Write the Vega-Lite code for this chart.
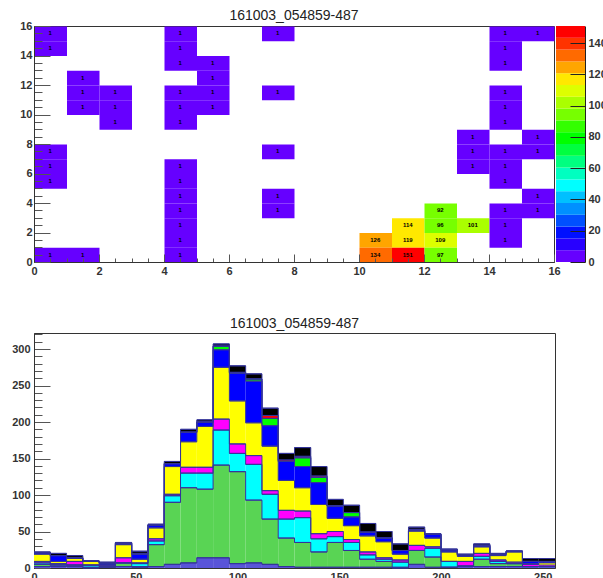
{
  "$schema": "https://vega.github.io/schema/vega-lite/v6.json",
  "padding": {"left": 11, "top": 8, "right": 0, "bottom": 0},
  "config": {
    "font": "Liberation Sans",
    "view": {"stroke": "#333", "strokeWidth": 1},
    "axis": {"labelFont": "Liberation Sans", "labelFontSize": 11, "labelColor": "#333", "labelFontWeight": "bold", "domainColor": "#333", "tickColor": "#555", "grid": false, "tickCount": 200},
    "title": {"font": "Liberation Sans", "fontSize": 14, "fontWeight": "normal", "color": "#222"}
  },
  "resolve": {"scale": {"color": "independent"}},
  "spacing": 35,
  "vconcat": [
    {
      "spacing": 2,
      "bounds": "flush",
      "hconcat": [
        {
          "width": 520,
          "height": 236,
          "title": {"text": "161003_054859-487", "offset": -3},
          "data": {"values": [
            {"x": 0.5, "y": 15.5, "v": 1}, {"x": 0.5, "y": 14.5, "v": 1}, {"x": 0.5, "y": 7.5, "v": 1}, {"x": 0.5, "y": 6.5, "v": 1}, {"x": 0.5, "y": 5.5, "v": 1}, {"x": 0.5, "y": 0.5, "v": 1},
            {"x": 1.5, "y": 12.5, "v": 1}, {"x": 1.5, "y": 11.5, "v": 1}, {"x": 1.5, "y": 10.5, "v": 1}, {"x": 1.5, "y": 0.5, "v": 1},
            {"x": 2.5, "y": 11.5, "v": 1}, {"x": 2.5, "y": 10.5, "v": 1}, {"x": 2.5, "y": 9.5, "v": 1},
            {"x": 4.5, "y": 15.5, "v": 1}, {"x": 4.5, "y": 14.5, "v": 1}, {"x": 4.5, "y": 13.5, "v": 1}, {"x": 4.5, "y": 11.5, "v": 1}, {"x": 4.5, "y": 10.5, "v": 1}, {"x": 4.5, "y": 9.5, "v": 1}, {"x": 4.5, "y": 6.5, "v": 1}, {"x": 4.5, "y": 5.5, "v": 1}, {"x": 4.5, "y": 4.5, "v": 1}, {"x": 4.5, "y": 3.5, "v": 1}, {"x": 4.5, "y": 2.5, "v": 1}, {"x": 4.5, "y": 1.5, "v": 1}, {"x": 4.5, "y": 0.5, "v": 1},
            {"x": 5.5, "y": 13.5, "v": 1}, {"x": 5.5, "y": 12.5, "v": 1}, {"x": 5.5, "y": 11.5, "v": 1}, {"x": 5.5, "y": 10.5, "v": 1},
            {"x": 7.5, "y": 15.5, "v": 1}, {"x": 7.5, "y": 11.5, "v": 1}, {"x": 7.5, "y": 7.5, "v": 1}, {"x": 7.5, "y": 4.5, "v": 1}, {"x": 7.5, "y": 3.5, "v": 1},
            {"x": 10.5, "y": 1.5, "v": 126}, {"x": 10.5, "y": 0.5, "v": 134},
            {"x": 11.5, "y": 2.5, "v": 114}, {"x": 11.5, "y": 1.5, "v": 119}, {"x": 11.5, "y": 0.5, "v": 151},
            {"x": 12.5, "y": 3.5, "v": 92}, {"x": 12.5, "y": 2.5, "v": 96}, {"x": 12.5, "y": 1.5, "v": 109}, {"x": 12.5, "y": 0.5, "v": 97},
            {"x": 13.5, "y": 2.5, "v": 101}, {"x": 13.5, "y": 8.5, "v": 1}, {"x": 13.5, "y": 7.5, "v": 1}, {"x": 13.5, "y": 6.5, "v": 1},
            {"x": 14.5, "y": 15.5, "v": 1}, {"x": 14.5, "y": 14.5, "v": 1}, {"x": 14.5, "y": 13.5, "v": 1}, {"x": 14.5, "y": 11.5, "v": 1}, {"x": 14.5, "y": 10.5, "v": 1}, {"x": 14.5, "y": 9.5, "v": 1}, {"x": 14.5, "y": 7.5, "v": 1}, {"x": 14.5, "y": 6.5, "v": 1}, {"x": 14.5, "y": 5.5, "v": 1}, {"x": 14.5, "y": 3.5, "v": 1}, {"x": 14.5, "y": 2.5, "v": 1}, {"x": 14.5, "y": 1.5, "v": 1},
            {"x": 15.5, "y": 15.5, "v": 1}, {"x": 15.5, "y": 8.5, "v": 1}, {"x": 15.5, "y": 7.5, "v": 1}, {"x": 15.5, "y": 4.5, "v": 1}, {"x": 15.5, "y": 3.5, "v": 1}
          ]},
          "layer": [
            {
              "mark": {"type": "rect"},
              "encoding": {
                "x": {"field": "x", "type": "quantitative", "bin": {"extent": [0, 16], "step": 1}, "scale": {"domain": [0, 16], "nice": false},
                  "axis": {"title": null, "values": [0,0.5,1,1.5,2,2.5,3,3.5,4,4.5,5,5.5,6,6.5,7,7.5,8,8.5,9,9.5,10,10.5,11,11.5,12,12.5,13,13.5,14,14.5,15,15.5,16],
                    "labelExpr": "datum.value % 2 === 0 ? datum.value : ''", "labelOverlap": false, "labelFlush": false,
                    "tickSize": {"condition": {"test": "datum.value % 2 === 0", "value": -8}, "value": -4}, "labelPadding": 11}},
                "y": {"field": "y", "type": "quantitative", "bin": {"extent": [0, 16], "step": 1}, "scale": {"domain": [0, 16], "nice": false},
                  "axis": {"title": null, "values": [0,0.5,1,1.5,2,2.5,3,3.5,4,4.5,5,5.5,6,6.5,7,7.5,8,8.5,9,9.5,10,10.5,11,11.5,12,12.5,13,13.5,14,14.5,15,15.5,16],
                    "labelExpr": "datum.value % 2 === 0 ? datum.value : ''", "labelOverlap": false, "labelFlush": false,
                    "tickSize": {"condition": {"test": "datum.value % 2 === 0", "value": -16}, "value": -8}, "labelPadding": 18}},
                "color": {"field": "v", "type": "quantitative", "legend": null,
                  "scale": {"type": "quantize", "domain": [0, 151], "range": ["#6600FF","#2800FF","#0010FF","#0050FF","#0090FF","#00C0FF","#00FFFF","#00FFC0","#00FF80","#00FF40","#00FF00","#33FF00","#77FF00","#AAFF00","#DDFF00","#FFE800","#FFA500","#FF6A00","#FF3300","#FF0000"]}}
              }
            },
            {
              "mark": {"type": "text", "fontSize": 6, "fontWeight": "bold", "color": "#000"},
              "encoding": {
                "x": {"field": "x", "type": "quantitative"},
                "y": {"field": "y", "type": "quantitative"},
                "text": {"field": "v", "type": "quantitative"}
              }
            }
          ]
        },
        {
          "width": 29,
          "height": 236,
          "view": {"stroke": null},
          "data": {"values": [
            {"lo": 0, "hi": 7.55, "m": 3.8}, {"lo": 7.55, "hi": 15.1, "m": 11.3}, {"lo": 15.1, "hi": 22.65, "m": 18.9}, {"lo": 22.65, "hi": 30.2, "m": 26.4},
            {"lo": 30.2, "hi": 37.75, "m": 34}, {"lo": 37.75, "hi": 45.3, "m": 41.5}, {"lo": 45.3, "hi": 52.85, "m": 49.1}, {"lo": 52.85, "hi": 60.4, "m": 56.6},
            {"lo": 60.4, "hi": 67.95, "m": 64.2}, {"lo": 67.95, "hi": 75.5, "m": 71.7}, {"lo": 75.5, "hi": 83.05, "m": 79.3}, {"lo": 83.05, "hi": 90.6, "m": 86.8},
            {"lo": 90.6, "hi": 98.15, "m": 94.4}, {"lo": 98.15, "hi": 105.7, "m": 101.9}, {"lo": 105.7, "hi": 113.25, "m": 109.5}, {"lo": 113.25, "hi": 120.8, "m": 117},
            {"lo": 120.8, "hi": 128.35, "m": 124.6}, {"lo": 128.35, "hi": 135.9, "m": 132.1}, {"lo": 135.9, "hi": 143.45, "m": 139.7}, {"lo": 143.45, "hi": 151, "m": 147.2}
          ]},
          "mark": {"type": "rect"},
          "encoding": {
            "x": {"datum": 0, "type": "quantitative", "scale": {"domain": [0, 1]}, "axis": null},
            "x2": {"datum": 1},
            "y": {"field": "lo", "type": "quantitative", "scale": {"domain": [0, 151], "nice": false},
              "axis": {"orient": "right", "title": null, "values": [0,20,40,60,80,100,120,140], "tickSize": -15, "labelPadding": 18, "tickColor": "#222", "domainColor": "#222", "labelFlush": false, "labelOverlap": false, "zindex": 1}},
            "y2": {"field": "hi"},
            "color": {"field": "m", "type": "quantitative", "legend": null,
              "scale": {"type": "quantize", "domain": [0, 151], "range": ["#6600FF","#2800FF","#0010FF","#0050FF","#0090FF","#00C0FF","#00FFFF","#00FFC0","#00FF80","#00FF40","#00FF00","#33FF00","#77FF00","#AAFF00","#DDFF00","#FFE800","#FFA500","#FF6A00","#FF3300","#FF0000"]}}
          }
        }
      ]
    },
    {
      "width": 521,
      "height": 235,
      "title": {"text": "161003_054859-487", "offset": -3},
      "data": {"values": [
        {"lo": 0, "hi": 8, "L1": 2, "L2": 3, "L3": 2, "L4": 2, "L5": 10, "L6": 2, "L7": 0, "L8": 0, "L9": 1},
        {"lo": 8, "hi": 16, "L1": 2, "L2": 1, "L3": 2, "L4": 1, "L5": 3, "L6": 8, "L7": 0, "L8": 0, "L9": 3},
        {"lo": 16, "hi": 24, "L1": 2, "L2": 2, "L3": 0, "L4": 5, "L5": 4, "L6": 1, "L7": 0, "L8": 0, "L9": 3},
        {"lo": 24, "hi": 32, "L1": 0, "L2": 1, "L3": 3, "L4": 0, "L5": 5, "L6": 0, "L7": 0, "L8": 0, "L9": 1},
        {"lo": 32, "hi": 40, "L1": 1, "L2": 1, "L3": 0, "L4": 2, "L5": 0, "L6": 3, "L7": 0, "L8": 0, "L9": 1},
        {"lo": 40, "hi": 48, "L1": 2, "L2": 5, "L3": 0, "L4": 7, "L5": 18, "L6": 2, "L7": 0, "L8": 0, "L9": 1},
        {"lo": 48, "hi": 56, "L1": 1, "L2": 1, "L3": 4, "L4": 1, "L5": 5, "L6": 7, "L7": 0, "L8": 1, "L9": 3},
        {"lo": 56, "hi": 64, "L1": 2, "L2": 30, "L3": 5, "L4": 3, "L5": 15, "L6": 4, "L7": 0, "L8": 0, "L9": 1},
        {"lo": 64, "hi": 72, "L1": 5, "L2": 85, "L3": 9, "L4": 2, "L5": 38, "L6": 4, "L7": 0, "L8": 0, "L9": 3},
        {"lo": 72, "hi": 80, "L1": 7, "L2": 103, "L3": 20, "L4": 8, "L5": 35, "L6": 13, "L7": 0, "L8": 0, "L9": 4},
        {"lo": 80, "hi": 88, "L1": 14, "L2": 94, "L3": 22, "L4": 8, "L5": 56, "L6": 6, "L7": 0, "L8": 0, "L9": 3},
        {"lo": 88, "hi": 96, "L1": 14, "L2": 127, "L3": 48, "L4": 15, "L5": 71, "L6": 24, "L7": 5, "L8": 0, "L9": 3},
        {"lo": 96, "hi": 104, "L1": 6, "L2": 126, "L3": 25, "L4": 13, "L5": 59, "L6": 38, "L7": 1, "L8": 0, "L9": 9},
        {"lo": 104, "hi": 112, "L1": 7, "L2": 86, "L3": 49, "L4": 12, "L5": 45, "L6": 57, "L7": 3, "L8": 0, "L9": 7},
        {"lo": 112, "hi": 120, "L1": 5, "L2": 62, "L3": 34, "L4": 5, "L5": 61, "L6": 28, "L7": 10, "L8": 4, "L9": 10},
        {"lo": 120, "hi": 128, "L1": 2, "L2": 39, "L3": 26, "L4": 12, "L5": 41, "L6": 26, "L7": 0, "L8": 2, "L9": 9},
        {"lo": 128, "hi": 136, "L1": 1, "L2": 34, "L3": 34, "L4": 9, "L5": 32, "L6": 29, "L7": 12, "L8": 2, "L9": 12},
        {"lo": 136, "hi": 144, "L1": 1, "L2": 21, "L3": 18, "L4": 7, "L5": 40, "L6": 30, "L7": 7, "L8": 2, "L9": 13},
        {"lo": 144, "hi": 152, "L1": 1, "L2": 34, "L3": 8, "L4": 7, "L5": 18, "L6": 17, "L7": 0, "L8": 0, "L9": 9},
        {"lo": 152, "hi": 160, "L1": 1, "L2": 23, "L3": 11, "L4": 4, "L5": 19, "L6": 12, "L7": 6, "L8": 0, "L9": 10},
        {"lo": 160, "hi": 168, "L1": 1, "L2": 11, "L3": 6, "L4": 4, "L5": 22, "L6": 5, "L7": 0, "L8": 0, "L9": 12},
        {"lo": 168, "hi": 176, "L1": 1, "L2": 8, "L3": 3, "L4": 2, "L5": 22, "L6": 5, "L7": 0, "L8": 0, "L9": 9},
        {"lo": 176, "hi": 184, "L1": 0, "L2": 1, "L3": 7, "L4": 3, "L5": 8, "L6": 5, "L7": 0, "L8": 0, "L9": 9},
        {"lo": 184, "hi": 192, "L1": 5, "L2": 19, "L3": 0, "L4": 7, "L5": 20, "L6": 0, "L7": 0, "L8": 2, "L9": 3},
        {"lo": 192, "hi": 200, "L1": 1, "L2": 14, "L3": 12, "L4": 2, "L5": 12, "L6": 5, "L7": 0, "L8": 0, "L9": 1},
        {"lo": 200, "hi": 208, "L1": 1, "L2": 0, "L3": 8, "L4": 0, "L5": 13, "L6": 3, "L7": 0, "L8": 0, "L9": 1},
        {"lo": 208, "hi": 216, "L1": 2, "L2": 0, "L3": 1, "L4": 6, "L5": 7, "L6": 2, "L7": 0, "L8": 0, "L9": 1},
        {"lo": 216, "hi": 224, "L1": 2, "L2": 10, "L3": 4, "L4": 4, "L5": 9, "L6": 2, "L7": 0, "L8": 0, "L9": 2},
        {"lo": 224, "hi": 232, "L1": 2, "L2": 4, "L3": 3, "L4": 2, "L5": 6, "L6": 2, "L7": 0, "L8": 0, "L9": 1},
        {"lo": 232, "hi": 240, "L1": 2, "L2": 4, "L3": 0, "L4": 2, "L5": 14, "L6": 1, "L7": 0, "L8": 0, "L9": 0},
        {"lo": 240, "hi": 248, "L1": 2, "L2": 0, "L3": 0, "L4": 3, "L5": 1, "L6": 3, "L7": 0, "L8": 0, "L9": 4},
        {"lo": 248, "hi": 256, "L1": 2, "L2": 0, "L3": 0, "L4": 2, "L5": 3, "L6": 2, "L7": 0, "L8": 0, "L9": 4}
      ]},
      "transform": [
        {"fold": ["L1", "L2", "L3", "L4", "L5", "L6", "L7", "L8", "L9"], "as": ["layer", "n"]},
        {"stack": "n", "groupby": ["lo"], "sort": [{"field": "layer", "order": "ascending"}], "as": ["y0", "y1"]}
      ],
      "layer": [
        {
          "mark": {"type": "rect"},
          "encoding": {
            "x": {"field": "lo", "type": "quantitative", "scale": {"domain": [0, 256], "nice": false},
              "axis": {"title": null, "values": [0,10,20,30,40,50,60,70,80,90,100,110,120,130,140,150,160,170,180,190,200,210,220,230,240,250],
                "labelExpr": "datum.value % 50 === 0 ? datum.value : ''", "labelOverlap": false, "labelFlush": false, "tickCount": 200,
                "tickSize": {"condition": {"test": "datum.value % 50 === 0", "value": -8}, "value": -4}, "labelPadding": 11}},
            "x2": {"field": "hi"},
            "y": {"field": "y0", "type": "quantitative", "scale": {"domain": [0, 322], "nice": false},
              "axis": {"title": null, "values": [0,10,20,30,40,50,60,70,80,90,100,110,120,130,140,150,160,170,180,190,200,210,220,230,240,250,260,270,280,290,300,310,320],
                "labelExpr": "datum.value % 50 === 0 ? datum.value : ''", "labelOverlap": false, "labelFlush": false, "tickCount": 200,
                "tickSize": {"condition": {"test": "datum.value % 50 === 0", "value": -16}, "value": -8}, "labelPadding": 20}},
            "y2": {"field": "y1"},
            "color": {"field": "layer", "type": "nominal", "legend": null,
              "scale": {"domain": ["L1", "L2", "L3", "L4", "L5", "L6", "L7", "L8", "L9"], "range": ["#5954D9", "#59D454", "#00FFFF", "#FF00FF", "#FFFF00", "#0000FF", "#00FF00", "#FF0000", "#000000"]}}
          }
        },
        {
          "mark": {"type": "line", "interpolate": "step-after", "color": "#34349a", "strokeWidth": 1},
          "encoding": {
            "x": {"field": "lo", "type": "quantitative"},
            "y": {"field": "y1", "type": "quantitative"},
            "detail": {"field": "layer", "type": "nominal"}
          }
        },
        {
          "mark": {"type": "rule", "color": "#34349a", "strokeWidth": 1},
          "encoding": {
            "x": {"field": "lo", "type": "quantitative"},
            "x2": {"field": "hi"},
            "y": {"field": "y1", "type": "quantitative"}
          }
        }
      ]
    }
  ]
}
